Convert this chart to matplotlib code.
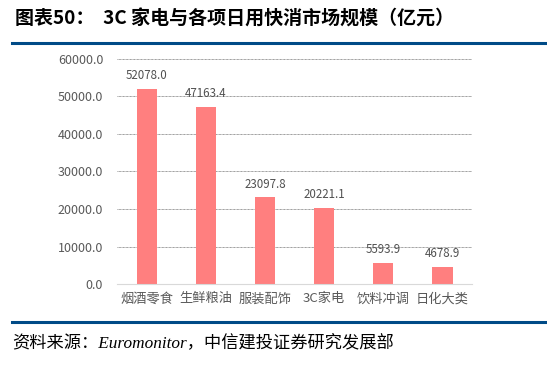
import matplotlib.pyplot as plt
from matplotlib.lines import Line2D

plt.rcParams['font.family'] = ['Noto Sans CJK SC', 'DejaVu Sans']

categories = ['烟酒零食', '生鲜粮油', '服装配饰', '3C家电', '饮料冲调', '日化大类']
values = [52078.0, 47163.4, 23097.8, 20221.1, 5593.9, 4678.9]
yticks = [0, 10000, 20000, 30000, 40000, 50000, 60000]

fig = plt.figure(figsize=(5.47, 3.68), dpi=100)
ax = fig.add_axes([0.214, 0.228, 0.649, 0.612])

x = range(len(categories))
bars = ax.bar(x, values, width=0.34, color='#FF7F7F', zorder=3)
for i, v in enumerate(values):
    ax.text(i, v + 1800, '%.1f' % v, ha='center', va='bottom', fontsize=8.3, color='#505050', zorder=4)

ax.set_xlim(-0.5, len(categories) - 0.5)
ax.set_ylim(0, 60000)
ax.set_yticks(yticks)
ax.set_yticklabels(['%.1f' % t for t in yticks], fontsize=9, color='#595959')
ax.set_xticks(list(x))
ax.set_xticklabels(categories, fontsize=9.5, color='#595959')
ax.tick_params(axis='x', length=0, pad=6)
ax.tick_params(axis='y', length=0, pad=10)
ax.yaxis.grid(True, linestyle=(0, (1.2, 0.8)), color='#606060', linewidth=0.5, zorder=0)
for s in ['top', 'right', 'left']:
    ax.spines[s].set_visible(False)
ax.spines['bottom'].set_color('#D9D9D9')
ax.spines['bottom'].set_zorder(5)

# header and footer
fig.text(0.027, 0.948, '图表50：  3C 家电与各项日用快消市场规模（亿元）', fontsize=13.7,
         fontweight='bold', color='black', va='center')
fig.add_artist(Line2D([0.022, 1.0], [0.882, 0.882], color='#004B87', linewidth=2.2))
fig.add_artist(Line2D([0.022, 1.0], [0.125, 0.125], color='#004B87', linewidth=2.2))
fig.text(0.022, 0.065, '资料来源：Euromonitor，中信建投证券研究发展部', fontsize=12.4,
         style='italic', family=['Liberation Serif', 'Noto Sans CJK SC'], va='center')

fig.savefig('out.png', dpi=100)
